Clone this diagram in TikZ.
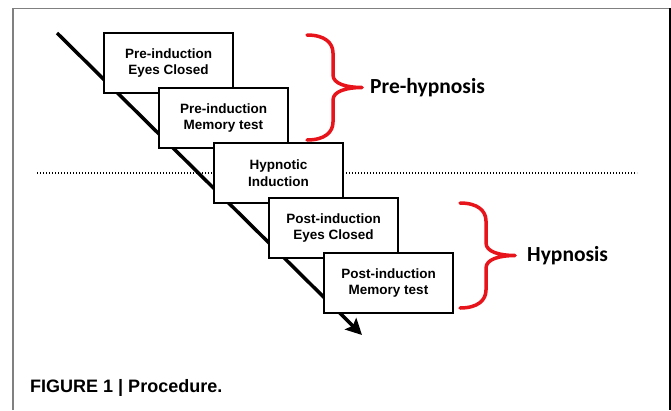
\documentclass[tikz,border=0pt]{standalone}
\usepackage{fontspec}
\setmainfont{Liberation Sans}
\newfontfamily\calib{Carlito}
\usetikzlibrary{arrows.meta,positioning}
\definecolor{bracered}{RGB}{232,20,27}
\definecolor{framegray}{RGB}{128,128,128}
\tikzset{
  stepbox/.style  = {draw, fill=white, line width=1.8pt, rectangle, inner sep=0pt,
  minimum width=129pt, minimum height=60pt, align=center,
  font=\fontsize{13.5}{16.7}\selectfont\bfseries},
  timeline/.style = {line width=3.5pt, -{Stealth[length=16pt,width=16pt,inset=3pt]}},
  splitline/.style = {line width=1.3pt, dash pattern=on 1.3pt off 1.7pt},
  brace/.style    = {bracered, line width=3.5pt, line cap=round, line join=round},
  phaselabel/.style = {inner sep=0pt, anchor=west, font=\calib\fontsize{21.5}{24}\selectfont\bfseries},
  caption/.style  = {inner sep=0pt, anchor=west, font=\fontsize{18}{20}\selectfont\bfseries}
}

\begin{document}
\begin{tikzpicture}[x=1pt, y=1pt, node distance=55pt]
\useasboundingbox (0,0) rectangle (671,-410);

% frame of the figure
\draw[framegray, line width=1.5pt] (13,-410) -- (13,-8.5) -- (670,-8.5);
\draw[black, line width=2pt] (670,-8) -- (670,-410);

% time arrow and the dotted split, behind the boxes
\coordinate (tstart) at (57,-33);
\coordinate (tend) at (362,-335);
\draw[timeline] (tstart) -- (tend);
\coordinate (sleft) at (37,-173);
\coordinate (sright) at (637,-173);
\draw[splitline] (sleft) -- (sright);

% the steps, each one down and right of the last
\node[stepbox] (pre1) at (168.5,-63) {Pre-induction\\Eyes Closed};
\node[stepbox, below of = pre1, xshift=55pt] (pre2) {Pre-induction\\Memory test};
\node[stepbox, below of = pre2, xshift=55pt] (induct) {Hypnotic\\Induction};
\node[stepbox, below of = induct, xshift=55pt] (post1) {Post-induction\\Eyes Closed};
\node[stepbox, below of = post1, xshift=55pt] (post2) {Post-induction\\Memory test};

% red braces
\foreach \bx/\by/\name in {307/-35/pre, 460/-203/post}
  \draw[brace] (\bx,\by) .. controls +(18,0) and +(0,10) .. ++(26,-18)
    -- ++(0,-22) .. controls +(0,-9) and +(-15,0) .. ++(29,-12.5) coordinate (\name tip)
    .. controls +(-15,0) and +(0,9) .. ++(-29,-12.5)
    -- ++(0,-22) .. controls +(0,-10) and +(18,0) .. ++(-26,-18);

\node[phaselabel, right=8pt of pretip] (prehyp) {Pre-hypnosis};
\node[phaselabel, right=12pt of posttip] (hyp) {Hypnosis};

\node[caption] (figcap) at (30,-388) {FIGURE 1 | Procedure.};
\end{tikzpicture}
\end{document}
